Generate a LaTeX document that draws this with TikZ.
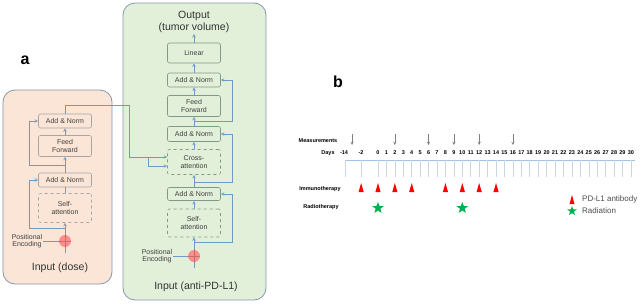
\documentclass[tikz,border=0pt]{standalone}
\usepackage{fontspec}
\setmainfont{Liberation Sans}
\usetikzlibrary{arrows,positioning,shapes.geometric}

\definecolor{peach}{HTML}{FBE5D6}
\definecolor{mint}{HTML}{E2F0D9}
\definecolor{frame}{HTML}{8497B0}
\definecolor{flow}{HTML}{6C9CC6}
\definecolor{leftline}{HTML}{A6A6A6}
\definecolor{rightline}{HTML}{7F9A88}
\definecolor{axis}{HTML}{9DC3E6}
\definecolor{tickc}{HTML}{C9D6E3}
\definecolor{radgreen}{HTML}{00B050}

\begin{document}
\begin{tikzpicture}[
  x=1pt, y=-1pt,
  panel/.style={draw=frame, line width=0.8pt, rounded corners=12pt},
  block/.style={draw=#1, line width=0.6pt, rounded corners=2pt, minimum width=53pt, align=center, inner sep=1pt, text=black!75, font=\fontsize{7}{7.5}\selectfont},
  small/.style={align=center, inner sep=1pt, text=black!75, font=\fontsize{7}{7.5}\selectfont},
  title/.style={align=center, inner sep=1pt, text=black!80, font=\fontsize{10.5}{12}\selectfont},
  plus/.style={circle, fill=red!50!white, opacity=0.85, minimum size=12pt, inner sep=0pt,
    path picture={\draw[red!60!black!60, line width=0.4pt] (path picture bounding box.north) -- (path picture bounding box.south) (path picture bounding box.west) -- (path picture bounding box.east);}},
  flow/.style={draw=flow, line width=0.6pt, >=stealth},
  letter/.style={font=\fontsize{16}{16}\selectfont\bfseries},
  rowlbl/.style={font=\fontsize{5.5}{6}\selectfont\bfseries, inner sep=0pt},
  daylbl/.style={font=\fontsize{5.5}{6}\selectfont\bfseries, inner sep=0pt},
  legtxt/.style={anchor=west, text=black!70, font=\fontsize{8}{9}\selectfont, inner sep=0pt},
  radstar/.style={star, star points=5, star point ratio=2.4, fill=radgreen, inner sep=0pt, minimum size=#1}
]
\useasboundingbox (0,0) rectangle (640,303);

% Panel a, dose branch
\node[letter] (la) at (25,60) {a};
\draw[panel, fill=peach] (3,90) rectangle (112,284);
\node[block=leftline, minimum height=14pt] (dAN2) at (65,121) {Add \& Norm};
\node[block=leftline, minimum height=21pt] (dFF) at (65,146) {Feed\\Forward};
\node[block=leftline, minimum height=14pt] (dAN1) at (65,180) {Add \& Norm};
\node[block=leftline, dashed, minimum height=29pt] (dSA) at (65,208) {Self-\\attention};
\node[small] (dPEtxt) at (27,241) {Positional\\Encoding};
\node[title] (dIn) at (60,268) {Input (dose)};
\coordinate (dBot) at (65,253);
\coordinate (dS1) at (65,228);
\coordinate (dS2) at (65,165);

\draw[flow, ->] (dBot) -- (dSA.south);
\node[plus] (dPE) at (65,241) {};
\draw[flow] (dPEtxt.east) -- (dPE.west);
\draw[flow] (dSA.north) -- (dAN1.south);
\draw[flow, ->] (dAN1.north) -- (dFF.south);
\draw[flow, ->] (dFF.north) -- (dAN2.south);
\draw[flow, ->] (dS1) -- (29,228) |- (dAN1.west);
\draw[flow, ->] (dS2) -- (29,165) |- (dAN2.west);

% Panel a, anti-PD-L1 branch
\draw[panel, fill=mint] (123,3) rectangle (266,300);
\node[title] (xOut) at (194,22) {Output\\(tumor volume)};
\node[block=rightline, minimum height=20pt] (xLin) at (194,53) {Linear};
\node[block=rightline, minimum height=14pt] (xAN3) at (194,80) {Add \& Norm};
\node[block=rightline, minimum height=21pt] (xFF) at (194,106) {Feed\\Forward};
\node[block=rightline, minimum height=15pt] (xAN2) at (194,134) {Add \& Norm};
\node[block=rightline, dashed, minimum height=25pt] (xCA) at (194,162) {Cross-\\attention};
\node[block=rightline, minimum height=13pt] (xAN1) at (194,194) {Add \& Norm};
\node[block=rightline, dashed, minimum height=28pt] (xSA) at (194,223) {Self-\\attention};
\node[small] (xPEtxt) at (157,256) {Positional\\Encoding};
\node[title] (xIn) at (196,287) {Input (anti-PD-L1)};
\coordinate (xBot) at (194,268);
\coordinate (xS1) at (194,242);
\coordinate (xS2) at (194,182);
\coordinate (xS3) at (194,121);

\draw[flow, ->] (xBot) -- (xSA.south);
\node[plus] (xPE) at (194,256) {};
\draw[flow] (xPEtxt.east) -- (xPE.west);
\draw[flow, ->] (xSA.north) -- (xAN1.south);
\draw[flow, ->] (xAN1.north) -- (xCA.south);
\draw[flow, ->] (xCA.north) -- (xAN2.south);
\draw[flow, ->] (xAN2.north) -- (xFF.south);
\draw[flow, ->] (xFF.north) -- (xAN3.south);
\draw[flow, ->] (xAN3.north) -- (xLin.south);
\draw[flow, ->] (xLin.north) -- (xOut.south);
\draw[flow, ->] (xS1) -- (232,242) |- (xAN1.east);
\draw[flow, ->] (xS2) -- (232,182) |- (xAN2.east);
\draw[flow, ->] (xS3) -- (232,121) |- (xAN3.east);

% Dose memory into cross-attention
\draw[flow, ->] (dAN2.north) |- (129,105) |- ([yshift=5pt]xCA.west);
\draw[flow, ->] (148,157) |- ([yshift=-4pt]xCA.west);

% Panel b, treatment timeline
\node[letter] (lb) at (338,82) {b};
\node[rowlbl] (rMeas) at (318,141) {Measurements};
\node[rowlbl] (rImm) at (320,189) {Immunotherapy};
\node[rowlbl] (rRad) at (321,207) {Radiotherapy};
\node[daylbl] (dDays) at (328,153) {Days};
\node[daylbl] (dM14) at (344,153) {-14};
\node[daylbl] (dM2) at (361,153) {-2};
\foreach \d in {0,...,30}
  \node[daylbl] (day\d) at ({378+8.43*\d},153) {\d};

\draw[axis, line width=0.8pt] (345,160) -- (635,160);
\foreach \x in {345,361}
  \draw[tickc, line width=0.5pt] (\x,160) -- ++(0,17);
\foreach \d in {0,...,30}
  \draw[tickc, line width=0.5pt] ({378+8.43*\d},160) -- ++(0,17);

% Measurement days
\draw[gray, line width=0.5pt, ->, >=stealth] (352,134) -- ++(0,11);
\foreach \d in {2,6,9,12,16}
  \draw[gray, line width=0.5pt, ->, >=stealth] ({378+8.43*\d},134) -- ++(0,11);

% Antibody doses
\foreach \d in {-2,0,2,4,8,10,12,14}
  \fill[red] ({378+8.43*\d-2.6},192) -- ({378+8.43*\d+2.6},192) -- ({378+8.43*\d},183) -- cycle;

% Radiation fractions
\node[radstar=12pt] (rad0) at (378,208) {};
\node[radstar=12pt] (rad10) at (462.3,208) {};

% Legend
\fill[red] (569.5,204) -- (574.5,204) -- (572,195) -- cycle;
\node[legtxt] (lgAb) at (582,199) {PD-L1 antibody};
\node[radstar=10pt] (lgStar) at (572,211) {};
\node[legtxt] (lgRad) at (582,211) {Radiation};
\end{tikzpicture}
\end{document}
